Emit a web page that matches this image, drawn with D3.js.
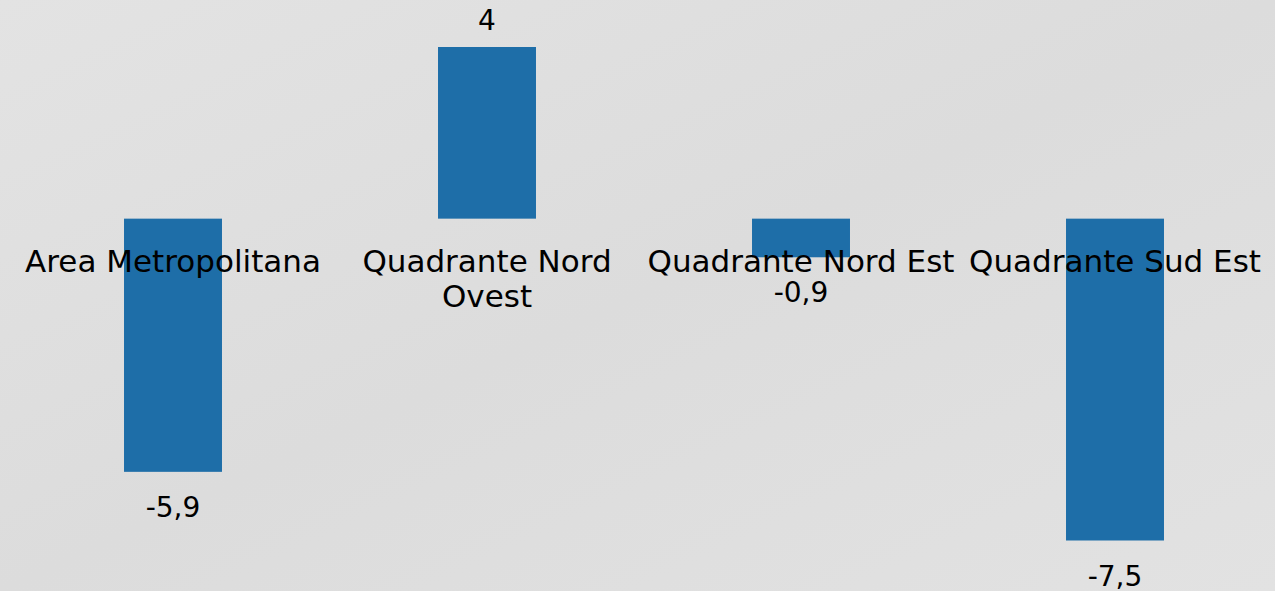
<!DOCTYPE html>
<html>
<head>
<meta charset="utf-8">
<script src="https://cdn.jsdelivr.net/npm/d3@7"></script>
<style>
  html, body { margin: 0; padding: 0; }
  body { width: 1275px; height: 591px; overflow: hidden; background: #e0e0e0; }
  svg { display: block; }
</style>
</head>
<body>
<svg id="chart" width="1275" height="591"></svg>
<script>
const categories = ["Area Metropolitana", "Quadrante Nord Ovest", "Quadrante Nord Est", "Quadrante Sud Est"];
const values = [-5.9, 4, -0.9, -7.5];

const W = 1275, H = 591;
const FONT = "'DejaVu Sans', sans-serif";
const FS_CAT = 31;
const FS_VAL = 28;

const svg = d3.select("#chart");

// background
const defs = svg.append("defs");
const grad = defs.append("linearGradient").attr("id", "bg").attr("x1", 0).attr("y1", 0).attr("x2", 1).attr("y2", 1);
grad.append("stop").attr("offset", "0%").attr("stop-color", "#e3e3e3");
grad.append("stop").attr("offset", "50%").attr("stop-color", "#dcdcdc");
grad.append("stop").attr("offset", "100%").attr("stop-color", "#e2e2e2");
svg.append("rect").attr("width", W).attr("height", H).attr("fill", "url(#bg)");

const x = d3.scaleBand().domain(categories).range([16, 1272]).paddingInner(0.688).paddingOuter(0.344);
const y = d3.scaleLinear().domain([-7.5, 4]).range([540.5, 47]);

const locale = d3.formatLocale({decimal: ",", thousands: ".", grouping: [3], currency: ["€", ""], minus: "-"});
const fmt = locale.format("~g");

svg.append("g").selectAll("rect").data(values).join("rect")
  .attr("x", (d, i) => x(categories[i]))
  .attr("width", x.bandwidth())
  .attr("y", d => y(Math.max(0, d)))
  .attr("height", d => Math.abs(y(d) - y(0)))
  .attr("fill", "#1e6ea8");

// category labels with wrapping
const step = x.step();
const labels = svg.append("g")
  .attr("font-family", FONT).attr("font-size", FS_CAT).attr("fill", "#000").attr("text-anchor", "middle");
categories.forEach((c, i) => {
  const cx = x(c) + x.bandwidth() / 2;
  const t = labels.append("text").attr("x", cx).attr("y", 272);
  const words = c.split(" ");
  let line = [];
  let ts = t.append("tspan").attr("x", cx).attr("dy", 0);
  words.forEach(w => {
    line.push(w);
    ts.text(line.join(" "));
    if (ts.node().getComputedTextLength() > step && line.length > 1) {
      line.pop();
      ts.text(line.join(" "));
      line = [w];
      ts = t.append("tspan").attr("x", cx).attr("dy", 35).text(w);
    }
  });
});

// value labels
svg.append("g").attr("font-family", FONT).attr("font-size", FS_VAL).attr("fill", "#000").attr("text-anchor", "middle")
  .selectAll("text").data(values).join("text")
  .attr("x", (d, i) => x(categories[i]) + x.bandwidth() / 2)
  .attr("y", d => d >= 0 ? y(d) - 17 : y(d) + 45)
  .text(d => fmt(d));
</script>
</body>
</html>
